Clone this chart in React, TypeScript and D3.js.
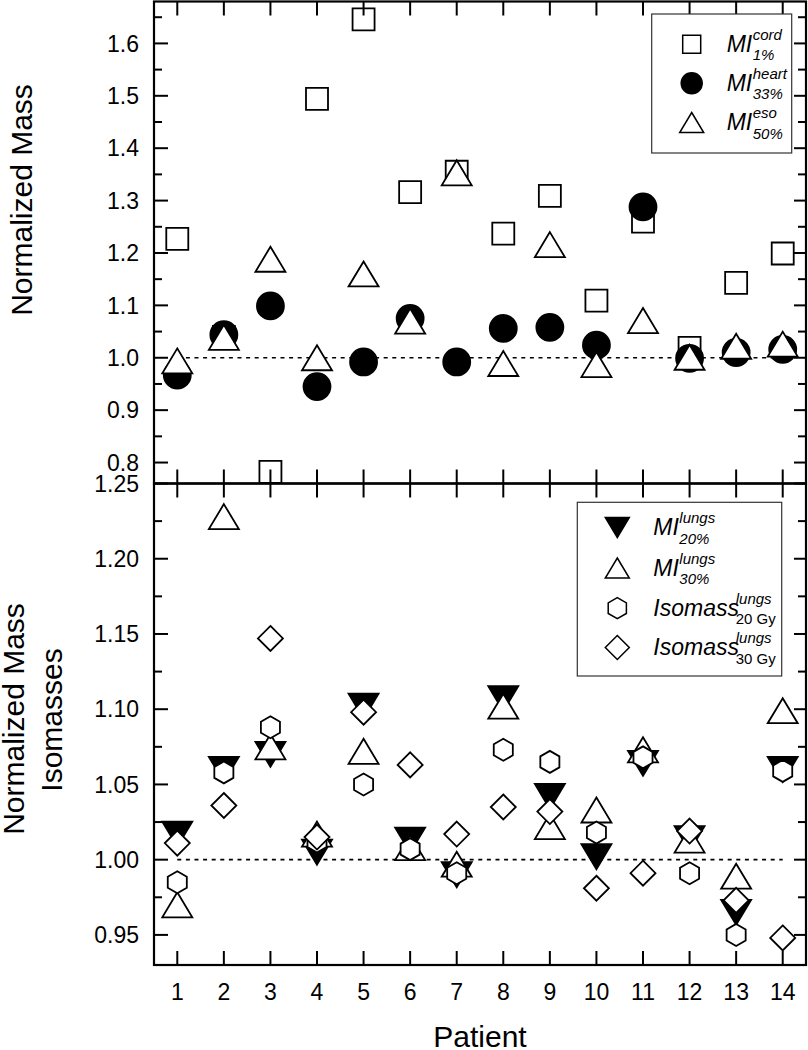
import React from "react";
import * as d3 from "d3";

// ---------- data ----------
const patients = [1, 2, 3, 4, 5, 6, 7, 8, 9, 10, 11, 12, 13, 14];

// top panel
const miCord1 = [1.227, 1.04, 0.782, 1.494, 1.646, 1.316, 1.355, 1.237, 1.309, 1.109, 1.26, 1.019, 1.143, 1.199];
const miHeart33 = [0.967, 1.044, 1.099, 0.945, 0.992, 1.075, 0.992, 1.056, 1.058, 1.024, 1.288, 0.999, 1.01, 1.016];
const miEso50 = [0.994, 1.039, 1.188, 1.0, 1.16, 1.07, 1.353, 0.989, 1.216, 0.987, 1.071, 1.001, 1.022, 1.026];

// bottom panel
const miLungs20 = [1.017, 1.060, 1.070, 1.005, 1.102, 1.013, 0.990, 1.107, 1.042, 1.002, 1.064, 1.014, 0.965, 1.060];
const miLungs30 = [0.970, 1.228, 1.075, 1.017, 1.072, 1.008, 0.997, 1.102, 1.022, 1.033, 1.073, 1.013, 0.989, 1.099];
const iso20 = [0.985, 1.058, 1.088, 1.012, 1.050, 1.007, 0.991, 1.073, 1.065, 1.018, 1.068, 0.991, 0.950, 1.059];
const iso30 = [1.011, 1.036, 1.147, 1.015, 1.098, 1.063, 1.017, 1.035, 1.032, 0.981, 0.991, 1.019, 0.973, 0.948];

const topTickValues = [0.8, 0.9, 1.0, 1.1, 1.2, 1.3, 1.4, 1.5, 1.6];
const topMinorValues = [0.85, 0.95, 1.05, 1.15, 1.25, 1.35, 1.45, 1.55, 1.65];
const botTickValues = [0.95, 1.0, 1.05, 1.1, 1.15, 1.2, 1.25];
const botMinorValues = [0.975, 1.025, 1.075, 1.125, 1.175, 1.225];

// ---------- layout ----------
const W = 808;
const H = 1050;
const L = 154;
const R = 806;
const FONT = "Arial, 'Liberation Sans', Helvetica, sans-serif";

const x = d3.scaleLinear().domain([0.5, 14.5]).range([L, R]);
const yTop = d3.scaleLinear().domain([0.76, 1.68]).range([483.5, 1.5]);
const yBot = d3.scaleLinear().domain([0.93, 1.25]).range([965, 483.5]);

type Shape = "square" | "circle" | "tri" | "invtri" | "hex" | "diamond";

function shapePath(shape: Shape, s: number): string {
  switch (shape) {
    case "square":
      return `M${-s / 2},${-s / 2}h${s}v${s}h${-s}Z`;
    case "tri": {
      const w = s * 1.2, h = s;
      return `M0,${-h / 2}L${w / 2},${h / 2}L${-w / 2},${h / 2}Z`;
    }
    case "invtri": {
      const w = s * 1.2, h = s;
      return `M0,${h / 2}L${w / 2},${-h / 2}L${-w / 2},${-h / 2}Z`;
    }
    case "hex": {
      const r = s / 2;
      const pts = d3.range(6).map((k) => {
        const a = -Math.PI / 2 + (k * Math.PI) / 3;
        return [r * Math.cos(a), r * Math.sin(a)];
      });
      return "M" + pts.map((p) => p.join(",")).join("L") + "Z";
    }
    case "diamond": {
      const h = s / 2;
      return `M0,${-h}L${h},0L0,${h}L${-h},0Z`;
    }
    default:
      return "";
  }
}

function Marker({ shape, cx, cy, s, filled, sw }: { shape: Shape; cx: number; cy: number; s: number; filled: boolean; sw: number }) {
  if (shape === "circle") {
    return <circle cx={cx} cy={cy} r={s / 2} fill={filled ? "#000" : "#fff"} stroke="#000" strokeWidth={sw} />;
  }
  return (
    <path
      d={shapePath(shape, s)}
      transform={`translate(${cx},${cy})`}
      fill={filled ? "#000" : "#fff"}
      stroke="#000"
      strokeWidth={sw}
      strokeLinejoin="miter"
    />
  );
}

function Series({ values, y, shape, s, filled }: { values: number[]; y: d3.ScaleLinear<number, number>; shape: Shape; s: number; filled: boolean }) {
  return (
    <g>
      {values.map((v, i) => (
        <Marker key={i} shape={shape} cx={x(patients[i])} cy={y(v)} s={s} filled={filled} sw={1.8} />
      ))}
    </g>
  );
}

function Frame({ y, top, bottom, majors, minors, fmt }: { y: d3.ScaleLinear<number, number>; top: number; bottom: number; majors: number[]; minors: number[]; fmt: (v: number) => string }) {
  const MAJ = 14, MIN = 8;
  return (
    <g stroke="#000" strokeWidth={2}>
      {majors.map((v) => (
        <g key={"M" + v}>
          <line x1={L} x2={L + MAJ} y1={y(v)} y2={y(v)} />
          <line x1={R} x2={R - MAJ + 2} y1={y(v)} y2={y(v)} />
        </g>
      ))}
      {minors.map((v) => (
        <g key={"m" + v}>
          <line x1={L} x2={L + MIN} y1={y(v)} y2={y(v)} />
          <line x1={R} x2={R - MIN} y1={y(v)} y2={y(v)} />
        </g>
      ))}
      {patients.map((p) => (
        <g key={"x" + p}>
          <line x1={x(p)} x2={x(p)} y1={top} y2={top + 14} />
          <line x1={x(p)} x2={x(p)} y1={bottom} y2={bottom - 14} />
        </g>
      ))}
      {majors.map((v) => (
        <text key={"t" + v} x={139} y={y(v)} dy="0.36em" textAnchor="end" stroke="none" fill="#000" fontSize={23} fontFamily={FONT}>
          {fmt(v)}
        </text>
      ))}
      <rect x={L} y={top} width={R - L} height={bottom - top} fill="none" strokeWidth={2.2} />
    </g>
  );
}

function RefLine({ y }: { y: d3.ScaleLinear<number, number> }) {
  return (
    <line x1={x(1)} x2={x(14)} y1={y(1)} y2={y(1)} stroke="#000" strokeWidth={1.6} strokeDasharray="4 4.6" />
  );
}

function LegendRow({ mx, tx, base, shape, s, filled, main, mainW, sup, sub, subItalic }: any) {
  const fs = 23;
  const sx = tx + mainW + 0.5;
  return (
    <g>
      <Marker shape={shape} cx={mx} cy={base - 7.5} s={s} filled={filled} sw={1.5} />
      <text x={tx} y={base} fontSize={fs} fontStyle="italic" fontFamily={FONT} fill="#000">{main}</text>
      <text x={sx} y={base - 12} fontSize={15} fontStyle="italic" fontFamily={FONT} fill="#000">{sup}</text>
      <text x={sx} y={base + 8.5} fontSize={15} fontStyle={subItalic ? "italic" : "normal"} fontFamily={FONT} fill="#000">{sub}</text>
    </g>
  );
}

export default function App() {
  const topFmt = d3.format(".1f");
  const botFmt = d3.format(".2f");
  const miW = 23 * 1.111;
  const isoW = 22 * 3.723;
  return (
    <svg width={W} height={H} style={{ position: "absolute", left: 0, top: 0, background: "#fff" }}>
      <rect x={0} y={0} width={W} height={H} fill="#fff" />

      {/* top panel */}
      <RefLine y={yTop} />
      <Series values={miCord1} y={yTop} shape="square" s={22} filled={false} />
      <Series values={miHeart33} y={yTop} shape="circle" s={27} filled={true} />
      <Series values={miEso50} y={yTop} shape="tri" s={25} filled={false} />
      <Frame y={yTop} top={1.5} bottom={483.5} majors={topTickValues} minors={topMinorValues} fmt={topFmt} />

      {/* bottom panel */}
      <RefLine y={yBot} />
      <Series values={miLungs20} y={yBot} shape="invtri" s={25} filled={true} />
      <Series values={miLungs30} y={yBot} shape="tri" s={25} filled={false} />
      <Series values={iso20} y={yBot} shape="hex" s={22} filled={false} />
      <Series values={iso30} y={yBot} shape="diamond" s={25} filled={false} />
      <Frame y={yBot} top={483.5} bottom={965} majors={botTickValues} minors={botMinorValues} fmt={botFmt} />

      {/* x tick labels */}
      {patients.map((p) => (
        <text key={p} x={x(p)} y={1000} textAnchor="middle" fontSize={23} fontFamily={FONT} fill="#000">
          {p}
        </text>
      ))}
      <text x={(L + R) / 2} y={1047} textAnchor="middle" fontSize={30} fontFamily={FONT} fill="#000">Patient</text>

      {/* y titles */}
      <text transform="translate(31.5,200) rotate(-90)" textAnchor="middle" fontSize={30} fontFamily={FONT} fill="#000">Normalized Mass</text>
      <text transform="translate(24,719) rotate(-90)" textAnchor="middle" fontSize={30} fontFamily={FONT} fill="#000">Normalized Mass</text>
      <text transform="translate(62,720) rotate(-90)" textAnchor="middle" fontSize={30} fontFamily={FONT} fill="#000">Isomasses</text>

      {/* top legend */}
      <rect x={651.7} y={14} width={140} height={139} fill="#fff" stroke="#333" strokeWidth={1.2} />
      <LegendRow mx={691.7} tx={726.7} base={51.7} shape="square" s={18} filled={false} main="MI" mainW={miW} sup="cord" sub="1%" subItalic />
      <LegendRow mx={691.7} tx={726.7} base={90.8} shape="circle" s={21} filled={true} main="MI" mainW={miW} sup="heart" sub="33%" subItalic />
      <LegendRow mx={691.7} tx={726.7} base={130} shape="tri" s={20} filled={false} main="MI" mainW={miW} sup="eso" sub="50%" subItalic />

      {/* bottom legend */}
      <rect x={577.3} y={502.3} width={204.4} height={173.7} fill="#fff" stroke="#333" strokeWidth={1.2} />
      <LegendRow mx={617.3} tx={653.3} base={535} shape="invtri" s={20} filled={true} main="MI" mainW={miW} sup="lungs" sub="20%" subItalic />
      <LegendRow mx={617.3} tx={653.3} base={575.5} shape="tri" s={20} filled={false} main="MI" mainW={miW} sup="lungs" sub="30%" subItalic />
      <LegendRow mx={617.3} tx={653.3} base={615.7} shape="hex" s={21} filled={false} main="Isomass" mainW={isoW} sup="lungs" sub="20 Gy" subItalic={false} />
      <LegendRow mx={617.3} tx={653.3} base={655} shape="diamond" s={24} filled={false} main="Isomass" mainW={isoW} sup="lungs" sub="30 Gy" subItalic={false} />
    </svg>
  );
}
